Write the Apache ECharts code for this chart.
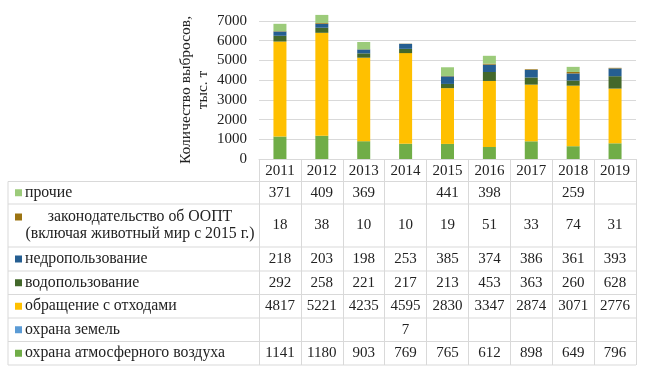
<!DOCTYPE html>
<html>
<head>
<meta charset="utf-8">
<script src="https://cdn.jsdelivr.net/npm/echarts@6/dist/echarts.min.js"></script>
<style>
  html, body { margin: 0; padding: 0; background: #fff; }
  #chart { width: 663px; height: 376px; }
</style>
</head>
<body>
<div id="chart"></div>
<script>
// data (thousand t)
const years = ['2011', '2012', '2013', '2014', '2015', '2016', '2017', '2018', '2019'];
const atmosphereAir = [1141, 1180, 903, 769, 765, 612, 898, 649, 796];
const landProtection = [null, null, null, 7, null, null, null, null, null];
const wasteHandling = [4817, 5221, 4235, 4595, 2830, 3347, 2874, 3071, 2776];
const waterUse = [292, 258, 221, 217, 213, 453, 363, 260, 628];
const subsoilUse = [218, 203, 198, 253, 385, 374, 386, 361, 393];
const protectedAreas = [18, 38, 10, 10, 19, 51, 33, 74, 31];
const otherViolations = [371, 409, 369, null, 441, 398, null, 259, null];

const seriesNames = [
  'охрана атмосферного воздуха',
  'охрана земель',
  'обращение с отходами',
  'водопользование',
  'недропользование',
  'законодательство об ООПТ\n(включая животный мир с 2015 г.)',
  'прочие'
];
const seriesData = [atmosphereAir, landProtection, wasteHandling, waterUse, subsoilUse, protectedAreas, otherViolations];
const seriesColors = ['#70AD47', '#5B9BD5', '#FFC000', '#43682B', '#255E91', '#9C7412', '#9CCB7A'];

// layout
const font = 'Liberation Serif';
const gridLeft = 259, gridRight = 636, gridTop = 21, axisY = 159;
const tableLeft = 8, tableBottom = 365;
const headerBottom = 181.5;
const rowHeights = [22.5, 43, 24, 23.5, 23.5, 23.5, 23.5]; // table rows top -> bottom
const lineColor = '#d9d9d9';

let chart = echarts.init(document.getElementById('chart'));

// table rows go top -> bottom in reverse stack order
let rowOrder = [6, 5, 4, 3, 2, 1, 0];
let rowTops = [];
let y0 = headerBottom;
rowHeights.forEach(h => { rowTops.push(y0); y0 += h; });

let xAxes = [{
  type: 'category',
  gridIndex: 0,
  position: 'bottom',
  data: years,
  axisLine: { onZero: false, lineStyle: { color: lineColor } },
  axisTick: { show: true, interval: 0, length: tableBottom - axisY, lineStyle: { color: lineColor } },
  axisLabel: {
    interval: 0, margin: (headerBottom - axisY) / 2 + 0.5, verticalAlign: 'middle',
    fontFamily: font, fontSize: 15, color: '#222'
  }
}];

let graphics = [];
rowOrder.forEach((si, r) => {
  let top = rowTops[r], h = rowHeights[r];
  let center = top + h / 2;
  xAxes.push({
    type: 'category',
    gridIndex: 0,
    position: 'bottom',
    data: seriesData[si].map(v => v == null ? '' : String(v)),
    axisLine: { show: false, onZero: false },
    axisTick: { show: false },
    axisLabel: {
      interval: 0, margin: center - axisY, verticalAlign: 'middle',
      fontFamily: font, fontSize: 15, color: '#222'
    }
  });
  let twoLine = seriesNames[si].indexOf('\n') >= 0;
  let keyY = twoLine ? center - 8.5 : center;
  graphics.push({
    type: 'rect',
    shape: { x: 15, y: keyY - 3.5, width: 7, height: 7 },
    style: { fill: seriesColors[si] },
    silent: true
  });
  graphics.push({
    type: 'text',
    x: twoLine ? 140 : 25,
    y: center,
    style: {
      text: seriesNames[si],
      fontFamily: font, fontSize: 15.8, lineHeight: 17.5,
      fill: '#222',
      align: twoLine ? 'center' : 'left',
      verticalAlign: 'middle'
    },
    silent: true
  });
  // horizontal rule at row top
  graphics.push({
    type: 'line',
    shape: { x1: tableLeft, y1: top, x2: gridRight, y2: top },
    style: { stroke: lineColor, lineWidth: 1 },
    silent: true
  });
});
graphics.push({
  type: 'line',
  shape: { x1: tableLeft, y1: tableBottom, x2: gridRight, y2: tableBottom },
  style: { stroke: lineColor, lineWidth: 1 },
  silent: true
});
graphics.push({
  type: 'line',
  shape: { x1: tableLeft, y1: headerBottom, x2: tableLeft, y2: tableBottom },
  style: { stroke: lineColor, lineWidth: 1 },
  silent: true
});

let option = {
  animation: false,
  grid: {
    left: gridLeft,
    top: gridTop,
    width: gridRight - gridLeft,
    height: axisY - gridTop,
    containLabel: false,
    outerBoundsMode: 'none'
  },
  xAxis: xAxes,
  yAxis: {
    type: 'value',
    min: 0,
    max: 7000,
    interval: 1000,
    name: 'Количество выбросов,\nтыс. т',
    nameLocation: 'middle',
    nameRotate: 90,
    nameGap: 48,
    nameMoveOverlap: false,
    nameTextStyle: { fontFamily: font, fontSize: 15.5, color: '#222', lineHeight: 17 },
    axisLine: { show: false },
    axisTick: { show: false },
    axisLabel: { margin: 12, fontFamily: font, fontSize: 15, color: '#222', formatter: v => String(v) },
    splitLine: { lineStyle: { color: lineColor } }
  },
  series: seriesData.map((d, i) => ({
    name: seriesNames[i],
    type: 'bar',
    stack: 'total',
    xAxisIndex: 0,
    barWidth: 13,
    clip: false,
    itemStyle: { color: seriesColors[i] },
    data: d
  })),
  graphic: graphics
};

chart.setOption(option);
</script>
</body>
</html>
